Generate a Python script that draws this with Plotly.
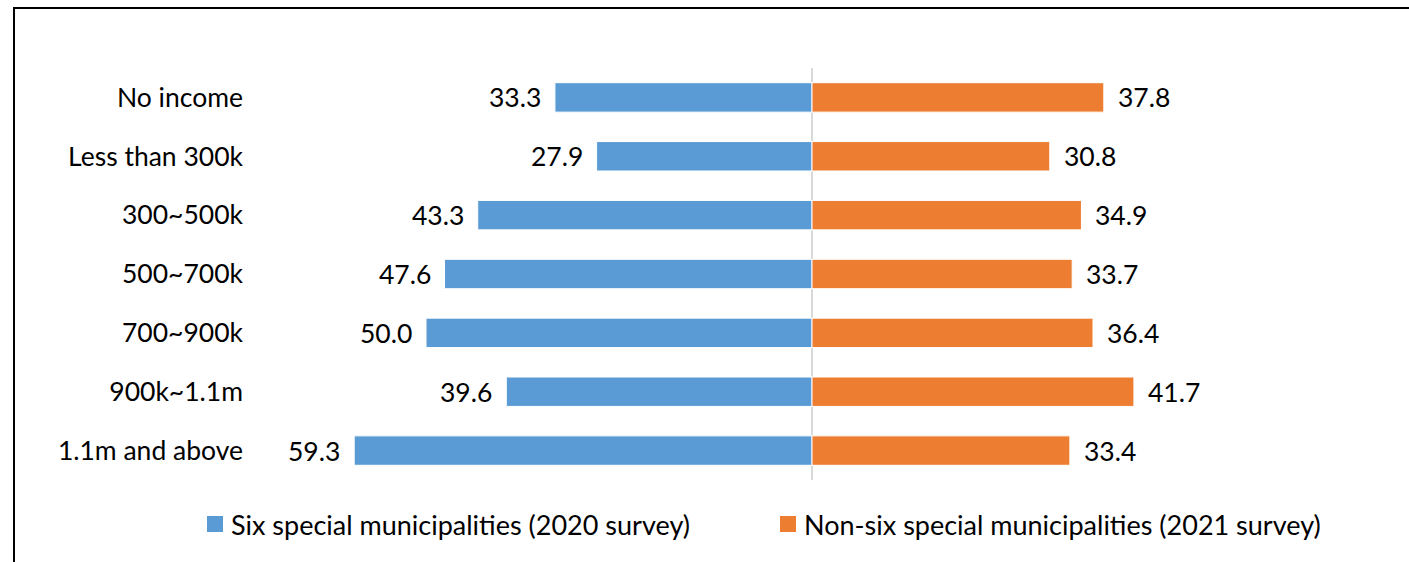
import plotly.graph_objects as go

categories = ["No income", "Less than 300k", "300~500k", "500~700k", "700~900k", "900k~1.1m", "1.1m and above"]
six_2020 = [33.3, 27.9, 43.3, 47.6, 50.0, 39.6, 59.3]
non_six_2021 = [37.8, 30.8, 34.9, 33.7, 36.4, 41.7, 33.4]
series_names = ["Six special municipalities (2020 survey)", "Non-six special municipalities (2021 survey)"]

BLUE = "#5B9BD5"
ORANGE = "#ED7D31"
FONT = "Lato"
FS = 26.5
LEG_FS = 27

W, H = 1409, 562
L, R, T, B = 248, 109, 68, 82
px_per_unit = 7.72
zero_px = 812
x_left = -(zero_px - L) / px_per_unit
x_right = (W - R - zero_px) / px_per_unit

fig = go.Figure()
fig.add_trace(go.Bar(
    y=categories, x=[-v for v in six_2020], orientation="h", name=series_names[0],
    marker=dict(color=BLUE, line=dict(color="white", width=1)), showlegend=False,
))
fig.add_trace(go.Bar(
    y=categories, x=non_six_2021, orientation="h", name=series_names[1],
    marker=dict(color=ORANGE, line=dict(color="white", width=1)), showlegend=False,
))

annotations = []
for c, v in zip(categories, six_2020):
    annotations.append(dict(x=-v, y=c, xref="x", yref="y", text=f"{v:.1f}", showarrow=False,
                            xanchor="right", xshift=-12, font=dict(family=FONT, size=FS, color="black")))
for c, v in zip(categories, non_six_2021):
    annotations.append(dict(x=v, y=c, xref="x", yref="y", text=f"{v:.1f}", showarrow=False,
                            xanchor="left", xshift=12, font=dict(family=FONT, size=FS, color="black")))

plot_w = W - L - R
plot_h = H - T - B
fx = lambda p: (p - L) / plot_w
fy = lambda p: (H - B - p) / plot_h

# manual legend (squares + labels)
legend_items = [(series_names[0], BLUE, 207, 231), (series_names[1], ORANGE, 780, 804)]
shapes = []
for name, col, sq_x, tx in legend_items:
    shapes.append(dict(type="rect", xref="paper", yref="paper", x0=fx(sq_x), x1=fx(sq_x + 16),
                       y0=fy(532), y1=fy(516), line=dict(width=0), fillcolor=col))
    annotations.append(dict(x=fx(tx), y=fy(524), xref="paper", yref="paper", text=name, showarrow=False,
                            xanchor="left", yanchor="middle", xshift=-2,
                            font=dict(family=FONT, size=LEG_FS, color="black")))

shapes.append(dict(type="rect", xref="paper", yref="paper", x0=fx(14), x1=fx(W + 20), y0=fy(H + 20), y1=fy(8),
                   line=dict(color="black", width=2), fillcolor="rgba(0,0,0,0)", layer="above"))

fig.update_layout(
    width=W, height=H,
    margin=dict(l=L, r=R, t=T, b=B),
    paper_bgcolor="white", plot_bgcolor="white",
    barmode="relative", bargap=0.5,
    font=dict(family=FONT, size=FS, color="black"),
    xaxis=dict(range=[x_left, x_right], showgrid=False, showticklabels=False, zeroline=True,
               zerolinecolor="#d9d9d9", zerolinewidth=2, showline=False, fixedrange=True),
    yaxis=dict(autorange="reversed", showgrid=False, showline=False, ticks="",
               tickfont=dict(family=FONT, size=FS, color="black"), ticklabelstandoff=4),
    annotations=annotations,
    shapes=shapes,
    showlegend=False,
)

fig.write_html("out.html")
